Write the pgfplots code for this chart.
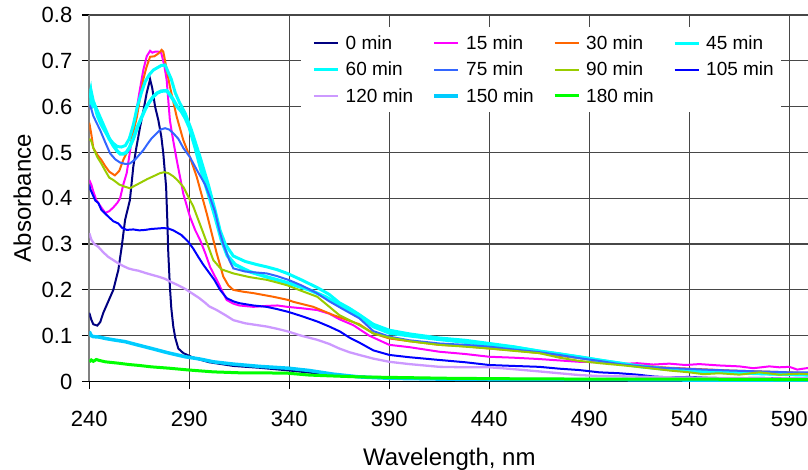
\documentclass[border=0pt]{standalone}
\usepackage{fontspec}
\setmainfont{Liberation Sans}
\usepackage{pgfplots}
\pgfplotsset{compat=1.18}

\definecolor{c00}{HTML}{000080}
\definecolor{c15}{HTML}{FF00FF}
\definecolor{c30}{HTML}{FF6600}
\definecolor{c45}{HTML}{00FFFF}
\definecolor{c60}{HTML}{00FFFF}
\definecolor{c75}{HTML}{3366FF}
\definecolor{c90}{HTML}{99CC00}
\definecolor{c105}{HTML}{0000FF}
\definecolor{c120}{HTML}{CC99FF}
\definecolor{c150}{HTML}{00CCFF}
\definecolor{c180}{HTML}{00FF00}

\newcommand{\lgd}[2][81pt]{\makebox[#1][l]{#2}}

\begin{document}
\begin{tikzpicture}[x=1pt,y=1pt]
\useasboundingbox (0,0) rectangle (808,470);
\begin{axis}[
  at={(89.3pt,88.5pt)}, anchor=south west,
  scale only axis, width=720pt, height=366.4pt,
  xmin=240, xmax=600, ymin=0, ymax=0.8,
  xtick={240,290,340,390,440,490,540,590},
  xticklabels={240,290,340,390,440,490,540,590},
  ytick={0,0.1,0.2,0.3,0.4,0.5,0.6,0.7,0.8},
  yticklabels={0,0.1,0.2,0.3,0.4,0.5,0.6,0.7,0.8},
  axis x line*=bottom, axis y line*=left,
  x axis line style={-, black, line width=1.3pt},
  y axis line style={-, black!50, line width=1.8pt},
  xmajorgrids, ymajorgrids,
  major grid style={line width=1.2pt, black!72},
  tick align=outside, major tick length=7.5pt,
  tick style={black, line width=1.2pt},
  tick label style={font=\fontsize{22}{26}\selectfont},
  xticklabel style={yshift=-19pt},
  yticklabel style={xshift=-6pt},
  xlabel={Wavelength, nm}, ylabel={Absorbance},
  xlabel style={at={(axis description cs:0.5,-0.2293)}, anchor=base,
    font=\fontsize{24}{28}\selectfont},
  ylabel style={at={(axis description cs:-0.0931,0.5)}, anchor=center,
    font=\fontsize{24}{28}\selectfont},
  legend columns=4,
  legend image code/.code={\draw[#1] (0pt,0pt) -- (24pt,0pt);},
  legend style={at={(0.294,0.9675)}, anchor=north west, draw=none, fill=white,
    font=\fontsize{19}{22}\selectfont, inner xsep=11pt, inner ysep=8.5pt,
    column sep=6pt, row sep=11pt, nodes={inner sep=0pt}},
  legend cell align=left,
]

% 0 min
\addplot[c00, line width=2pt] coordinates {
(240,0.15) (241,0.135) (242,0.125) (244,0.122) (245.5,0.13) (247,0.15) (249,0.17)
(252,0.2) (254.5,0.243) (256.2,0.294) (257.9,0.353) (260.3,0.396) (262,0.469)
(263.5,0.51) (265.4,0.556) (267,0.59) (268.7,0.63) (270.4,0.66) (271.5,0.64)
(272.9,0.6) (274.5,0.571) (276,0.535) (277,0.498) (278.4,0.425) (279,0.353)
(279.5,0.28) (280.3,0.207) (281,0.16) (282,0.12) (283,0.095) (284.5,0.072)
(287,0.062) (291,0.054) (295,0.048) (300,0.042) (312,0.034) (325,0.03)
(340,0.024) (362,0.014) (375,0.011) (390,0.008) (420,0.006) (450,0.005)
(500,0.004) (550,0.003) (600,0.002)};
\addlegendentry{\lgd{0 min}}

% 15 min
\addplot[c15, line width=2pt] coordinates {
(240,0.44) (241,0.43) (242,0.415) (243.5,0.396) (246,0.38) (248,0.368) (250,0.372)
(252,0.38) (254,0.39) (255.4,0.4) (257,0.43) (258.7,0.455) (262,0.55) (265.4,0.64)
(267,0.68) (268.7,0.71) (270.4,0.722) (271.5,0.718) (272.9,0.72) (274.5,0.72)
(276,0.717) (277.5,0.69) (278.7,0.658) (280.3,0.57) (282,0.525) (283.7,0.484)
(287,0.41) (290.3,0.36) (293,0.33) (295.4,0.309) (298,0.28) (300.4,0.25)
(303.7,0.222) (305.4,0.207) (308.7,0.178) (312,0.17) (315,0.166) (322,0.163)
(328.7,0.165) (334,0.166) (339,0.163) (346,0.16) (354,0.156) (360,0.148)
(365,0.136) (372,0.123) (380,0.1) (390,0.08) (400,0.075) (415,0.065) (428,0.06)
(440,0.054) (452,0.052) (465,0.049) (475,0.046) (485,0.043) (495,0.042)
(505,0.038) (514,0.04) (522,0.037) (530,0.039) (538,0.036) (545,0.038)
(555,0.035) (565,0.033) (572,0.029) (580,0.033) (585,0.031) (590,0.032)
(594,0.026) (600,0.03)};
\addlegendentry{\lgd{15 min}}

% 30 min
\addplot[c30, line width=2pt] coordinates {
(240,0.565) (241,0.54) (242,0.51) (244,0.495) (246,0.484) (248,0.47) (250,0.458)
(252.8,0.45) (255,0.46) (257,0.484) (260.3,0.513) (263.8,0.578) (266.9,0.658)
(268.5,0.685) (270.4,0.709) (272.5,0.71) (274.5,0.716) (276.2,0.724) (277,0.72)
(277.9,0.7) (280.3,0.644) (283.7,0.578) (287,0.527) (290.3,0.49) (293.7,0.447)
(298.7,0.367) (303.7,0.28) (307,0.229) (309.5,0.21) (312,0.2) (317,0.196)
(322,0.193) (332,0.185) (339.5,0.178) (342,0.174) (352,0.163) (362,0.145)
(375,0.125) (382,0.105) (390,0.094) (400,0.088) (415,0.08) (428,0.077)
(440,0.072) (452,0.068) (465,0.062) (475,0.056) (485,0.051) (500,0.042)
(515,0.035) (530,0.03) (545,0.027) (560,0.024) (575,0.022) (590,0.02) (600,0.018)};
\addlegendentry{\lgd{30 min}}

% 45 min
\addplot[c45, line width=3pt] coordinates {
(240,0.62) (240.7,0.635) (241.5,0.6) (242.5,0.605) (244,0.58) (246,0.56)
(248,0.545) (250,0.53) (252,0.52) (254,0.513) (256,0.512) (258,0.515) (260,0.53)
(262,0.56) (264,0.6) (266,0.63) (268,0.655) (270,0.67) (272,0.68) (274,0.685)
(276,0.69) (277.9,0.691) (279.5,0.675) (281,0.66) (283,0.63) (285,0.61)
(287.9,0.586) (291,0.55) (295.4,0.49) (299.5,0.43) (302.9,0.374) (305.4,0.33)
(308,0.3) (312,0.274) (318,0.262) (324,0.255) (329,0.25) (334,0.244) (339,0.236)
(346,0.222) (354,0.205) (360,0.19) (365,0.172) (370,0.16) (375,0.146) (382,0.125)
(390,0.112) (400,0.104) (415,0.095) (428,0.09) (440,0.083) (452,0.076)
(465,0.066) (475,0.06) (485,0.054) (495,0.047) (505,0.04) (514,0.033)
(525,0.028) (537,0.024) (547,0.021) (560,0.019) (575,0.017) (590,0.015) (600,0.014)};
\addlegendentry{\lgd[64pt]{45 min}}

% 60 min
\addplot[c60, line width=3.5pt] coordinates {
(240,0.6) (241,0.63) (242,0.61) (244,0.59) (246,0.57) (248,0.55) (250,0.53)
(252,0.515) (254,0.503) (255.5,0.497) (257,0.497) (258.5,0.5) (260,0.51)
(262,0.53) (264,0.555) (266,0.575) (268,0.595) (270,0.61) (272,0.622) (274,0.63)
(276,0.634) (278.7,0.635) (280,0.628) (282,0.615) (284,0.6) (286,0.59)
(288,0.575) (290,0.555) (293,0.51) (296,0.46) (299.5,0.41) (302.9,0.36)
(306,0.31) (309,0.275) (313,0.255) (320,0.24) (329,0.228) (339.5,0.215)
(350,0.2) (358,0.185) (366,0.165) (375,0.142) (382,0.12) (390,0.106) (400,0.1)
(415,0.092) (428,0.086) (440,0.08) (452,0.075) (465,0.066) (475,0.06)
(485,0.053) (495,0.046) (505,0.04) (514,0.034) (525,0.029) (537,0.025)
(547,0.022) (560,0.02) (575,0.018) (590,0.016) (600,0.015)};
\addlegendentry{\lgd{60 min}}

% 75 min
\addplot[c75, line width=2pt] coordinates {
(240,0.604) (241,0.595) (242,0.58) (243.5,0.566) (245.4,0.549) (248,0.522)
(250.4,0.498) (253,0.485) (255.4,0.478) (258,0.475) (260.3,0.476) (263,0.485)
(265,0.495) (267,0.505) (269,0.518) (271,0.53) (273.7,0.542) (275.5,0.55)
(277.9,0.553) (280,0.55) (282,0.542) (284.5,0.53) (287,0.51) (290.3,0.49)
(294,0.46) (297.9,0.43) (300.5,0.4) (302.9,0.37) (305,0.33) (307,0.3)
(310,0.265) (312,0.247) (318,0.24) (328.7,0.236) (334,0.23) (339.5,0.222)
(346,0.21) (353.7,0.193) (360,0.175) (366,0.16) (375,0.138) (382,0.11)
(390,0.098) (400,0.09) (415,0.083) (428,0.08) (440,0.076) (452,0.07) (465,0.064)
(475,0.058) (485,0.051) (495,0.045) (505,0.038) (514,0.034) (525,0.03)
(537,0.028) (547,0.026) (560,0.024) (575,0.022) (590,0.02) (600,0.02)};
\addlegendentry{\lgd{75 min}}

% 90 min
\addplot[c90, line width=2pt] coordinates {
(240,0.53) (241,0.525) (242,0.51) (244,0.49) (246,0.476) (248,0.46) (250,0.445)
(252,0.44) (255,0.43) (258,0.425) (260.3,0.422) (263,0.428) (266,0.435)
(269,0.442) (272,0.448) (275.4,0.455) (277.5,0.457) (279.5,0.455) (282,0.448)
(284,0.44) (287,0.425) (292,0.382) (297,0.324) (302,0.265) (306,0.245)
(312,0.236) (320,0.228) (328.7,0.222) (334,0.216) (339,0.21) (346,0.198)
(354,0.185) (365,0.145) (375,0.123) (382,0.105) (390,0.096) (400,0.088)
(415,0.08) (428,0.076) (440,0.072) (452,0.067) (465,0.062) (475,0.052)
(485,0.045) (495,0.04) (505,0.036) (514,0.032) (522,0.028) (530,0.024)
(540,0.02) (547,0.016) (555,0.018) (565,0.015) (575,0.02) (585,0.015)
(595,0.017) (600,0.016)};
\addlegendentry{\lgd{90 min}}

% 105 min
\addplot[c105, line width=2pt] coordinates {
(240,0.43) (240.5,0.42) (241.5,0.41) (243,0.395) (244.5,0.39) (246,0.375)
(249.5,0.36) (252,0.35) (254.5,0.345) (256.5,0.335) (258.7,0.331) (262,0.332)
(265,0.33) (268,0.331) (271,0.333) (274,0.334) (277,0.335) (279.5,0.334)
(282,0.33) (284,0.325) (286,0.32) (289.5,0.305) (292,0.29) (294.5,0.272)
(297,0.255) (299.5,0.24) (302.5,0.222) (305.4,0.2) (308.7,0.182) (312,0.175)
(315,0.171) (322,0.166) (328.7,0.163) (334,0.158) (339.5,0.152) (346,0.143)
(354,0.131) (360,0.12) (365.4,0.109) (370,0.096) (375,0.085) (382,0.068)
(390,0.058) (400,0.053) (415,0.047) (428,0.042) (440,0.036) (452,0.034)
(465,0.032) (475,0.028) (485,0.025) (495,0.02) (505,0.018) (514,0.015)
(522,0.011) (530,0.009) (540,0.01) (550,0.008) (560,0.007) (575,0.008)
(590,0.006) (600,0.006)};
\addlegendentry{\lgd[64pt]{105 min}}

% 120 min
\addplot[c120, line width=2.3pt] coordinates {
(240,0.324) (241,0.31) (242.5,0.3) (244.5,0.294) (247,0.282) (249.5,0.272)
(252,0.265) (254.5,0.258) (257,0.252) (259.5,0.247) (262,0.244) (264.5,0.242)
(268,0.237) (271.2,0.233) (274.5,0.229) (277.9,0.224) (281,0.217) (284.5,0.21)
(288,0.202) (291.2,0.193) (295,0.182) (297.9,0.172) (300,0.164) (303.7,0.156)
(308,0.145) (312,0.134) (318,0.127) (328.7,0.12) (334,0.115) (339.5,0.109)
(346,0.1) (354,0.091) (360,0.082) (365,0.072) (370,0.064) (375,0.058) (382,0.05)
(390,0.043) (400,0.038) (415,0.032) (428,0.031) (440,0.031) (452,0.027)
(465,0.022) (475,0.018) (485,0.014) (495,0.012) (510,0.011) (530,0.009)
(550,0.008) (575,0.007) (600,0.006)};
\addlegendentry{\lgd{120 min}}

% 150 min
\addplot[c150, line width=3.5pt] coordinates {
(240,0.109) (241,0.1) (242,0.098) (245,0.097) (248,0.094) (252,0.091)
(257.9,0.087) (264,0.08) (271.2,0.072) (279,0.063) (287.9,0.054) (295.4,0.049)
(302,0.043) (312,0.038) (325,0.033) (339.5,0.029) (350,0.024) (362,0.016)
(375,0.01) (390,0.007) (420,0.005) (450,0.004) (500,0.004) (550,0.003) (600,0.003)};
\addlegendentry{\lgd{150 min}}

% 180 min
\addplot[c180, line width=3pt] coordinates {
(240,0.043) (241,0.047) (242,0.044) (243.5,0.048) (245,0.046) (248,0.043)
(254.5,0.04) (260,0.037) (265,0.035) (271,0.032) (280,0.029) (290,0.025)
(302,0.021) (315,0.019) (325,0.019) (339.5,0.018) (350,0.014) (362,0.012)
(375,0.01) (390,0.009) (420,0.007) (450,0.006) (500,0.005) (550,0.005) (600,0.004)};
\addlegendentry{\lgd{180 min}}

\end{axis}
\end{tikzpicture}
\end{document}
